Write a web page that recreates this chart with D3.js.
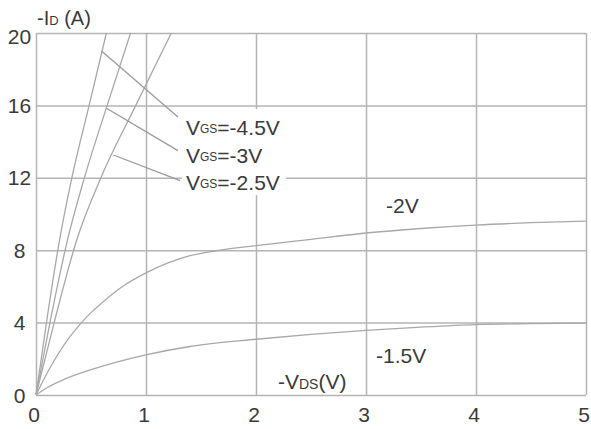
<!DOCTYPE html>
<html>
<head>
<meta charset="utf-8">
<script src="https://cdn.jsdelivr.net/npm/d3@7"></script>
<style>
  html, body { margin: 0; padding: 0; background: #fff; }
  svg { display: block; font-family: "Liberation Sans", Arial, sans-serif; }
</style>
</head>
<body>
<svg id="chart" width="591" height="429"></svg>
<script>
// Axis ticks
const xTicks = [0, 1, 2, 3, 4, 5];
const yTicks = [0, 4, 8, 12, 16, 20];

// Output characteristics: -VDS (V) vs -ID (A) for each gate voltage
const vgs45Vds = [0, 0.1, 0.214, 0.326, 0.483, 0.64];
const vgs45Id  = [0, 4.2, 8.56, 12, 16, 20];

const vgs3Vds = [0, 0.13, 0.286, 0.44, 0.647, 0.86];
const vgs3Id  = [0, 4.1, 8.56, 12, 16, 20];

const vgs25Vds = [0, 0.165, 0.37, 0.59, 0.907, 1.23];
const vgs25Id  = [0, 4.0, 8.56, 12, 16, 20];

const vgs2Vds = [0, 0.1, 0.2, 0.3, 0.4, 0.5, 0.6, 0.8, 1.0, 1.2, 1.4, 1.64, 2.0, 2.5, 3.0, 3.5, 4.0, 4.5, 5.0];
const vgs2Id  = [0, 1.2, 2.25, 3.15, 3.9, 4.55, 5.1, 6.05, 6.75, 7.3, 7.7, 7.97, 8.25, 8.6, 8.95, 9.2, 9.39, 9.52, 9.61];

const vgs15Vds = [0, 0.1, 0.25, 0.5, 0.75, 1.0, 1.4, 2.0, 2.5, 3.0, 3.5, 4.0, 4.5, 5.0];
const vgs15Id  = [0, 0.4, 0.85, 1.4, 1.85, 2.22, 2.68, 3.08, 3.35, 3.57, 3.75, 3.89, 3.94, 3.97];

// Callout labels for the steep curves: leader from a point on the curve to the label
const calloutValues = ["-4.5V", "-3V", "-2.5V"];
const calloutFrom = [[0.596, 19.0], [0.641, 15.84], [0.704, 13.26]];
const calloutTo   = [[1.29, 15.36], [1.29, 13.5], [1.31, 11.84]];

const svg = d3.select("#chart");
const x = d3.scaleLinear().domain([0, 5]).range([36, 586]);
const y = d3.scaleLinear().domain([0, 20]).range([395, 33]);

const gridColor = "#b4b4b4";
const curveColor = "#a8a8a8";
const textColor = "#3a3a3a";

// Grid lines (also form the frame)
const gx = svg.append("g")
  .attr("transform", `translate(0,${y(0)})`)
  .call(d3.axisBottom(x).tickValues(xTicks).tickSize(-(y(0) - y(20))).tickFormat(""));
const gy = svg.append("g")
  .attr("transform", `translate(${x(0)},0)`)
  .call(d3.axisLeft(y).tickValues(yTicks).tickSize(-(x(5) - x(0))).tickFormat(""));
[gx, gy].forEach(g => {
  g.select(".domain").remove();
  g.selectAll(".tick line").attr("stroke", gridColor).attr("stroke-width", 1.5);
});

// Tick labels
svg.append("g").selectAll("text").data(xTicks).join("text")
  .attr("x", d => x(d) - 2)
  .attr("y", 422)
  .attr("text-anchor", "middle")
  .attr("font-size", 21)
  .attr("fill", textColor)
  .text(d => d);
svg.append("g").selectAll("text").data(yTicks).join("text")
  .attr("x", 19.5)
  .attr("y", d => y(d) + (d === 20 ? 11 : 7.5))
  .attr("text-anchor", "middle")
  .attr("font-size", 21)
  .attr("fill", textColor)
  .text(d => d);

// Curves
const line = d3.line().x(d => x(d[0])).y(d => y(d[1])).curve(d3.curveMonotoneX);
const series = [
  [vgs45Vds, vgs45Id],
  [vgs3Vds, vgs3Id],
  [vgs25Vds, vgs25Id],
  [vgs2Vds, vgs2Id],
  [vgs15Vds, vgs15Id]
];
svg.append("g").selectAll("path").data(series).join("path")
  .attr("d", s => line(s[0].map((v, i) => [v, s[1][i]])))
  .attr("fill", "none")
  .attr("stroke", curveColor)
  .attr("stroke-width", 1.3);

// White panel behind the gate-voltage labels
svg.append("rect")
  .attr("x", 182).attr("y", 109)
  .attr("width", 104).attr("height", 86)
  .attr("fill", "#fff");

// Leader lines
svg.append("g").selectAll("line").data(calloutFrom).join("line")
  .attr("x1", d => x(d[0])).attr("y1", d => y(d[1]))
  .attr("x2", (d, i) => x(calloutTo[i][0])).attr("y2", (d, i) => y(calloutTo[i][1]))
  .attr("stroke", "#9a9a9a")
  .attr("stroke-width", 1.3);

// Gate-voltage labels: V, subscript GS, then the value
const baselines = [135, 163, 190];
const lbl = svg.append("g").selectAll("text").data(calloutValues).join("text")
  .attr("x", 186)
  .attr("y", (d, i) => baselines[i])
  .attr("font-size", 21)
  .attr("fill", textColor);
lbl.append("tspan").text("V");
lbl.append("tspan").attr("font-size", 12).attr("dy", -2).text("GS");
lbl.append("tspan").attr("dy", 2).text(d => "=" + d);

// Labels for the lower curves
svg.append("text").attr("x", 386).attr("y", 213)
  .attr("font-size", 21).attr("fill", textColor).text("-2V");
svg.append("text").attr("x", 376).attr("y", 363)
  .attr("font-size", 21).attr("fill", textColor).text("-1.5V");

// Axis titles
const yt = svg.append("text").attr("x", 37).attr("y", 25)
  .attr("font-size", 20).attr("fill", textColor);
yt.append("tspan").text("-I");
yt.append("tspan").attr("font-size", 13).text("D");
yt.append("tspan").text(" (A)");

const xt = svg.append("text").attr("x", 278).attr("y", 389)
  .attr("font-size", 21).attr("fill", textColor);
xt.append("tspan").text("-V");
xt.append("tspan").attr("font-size", 14).text("DS");
xt.append("tspan").text("(V)");
</script>
</body>
</html>
